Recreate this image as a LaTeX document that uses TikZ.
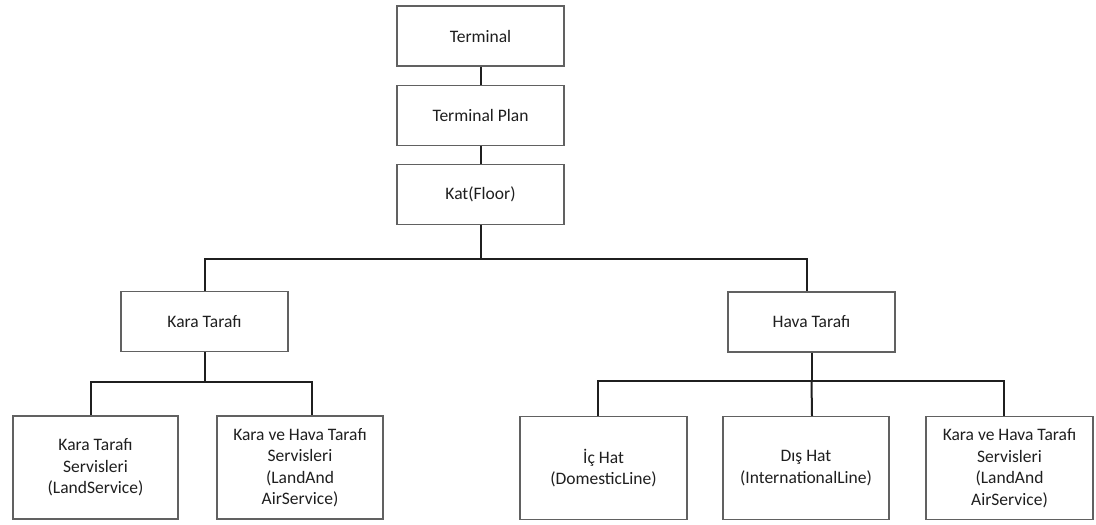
\documentclass[tikz,border=0pt]{standalone}
\usepackage{fontspec}
\setmainfont{Carlito}
\begin{document}
\begin{tikzpicture}[x=1pt,y=-1pt,
  box/.style={draw=black!62, line width=1.2pt, fill=white, rectangle,
    minimum width=167pt, align=center, inner sep=2pt, text=black!88,
    font=\fontsize{17.5}{21.5}\selectfont},
  hbox/.style={box, minimum height=60pt},
  tbox/.style={box, minimum height=103pt},
  link/.style={draw=black!88, line width=2pt}]
\useasboundingbox (0,0) rectangle (1096,525);

% top chain
\node[hbox] (term)  at (480.5,36)    {Terminal};
\node[hbox] (plan)  at (480.5,115.5) {Terminal Plan};
\node[hbox] (floor) at (480.5,194.5) {Kat(Floor)};

% two sides
\node[hbox] (land) at (204.5,321.5) {Kara Tarafı};
\node[hbox] (air)  at (811.5,322)   {Hava Tarafı};

% land side services
\node[tbox, minimum width=165pt] (lserv)  at (95.5,467.5) {Kara Tarafı\\Servisleri\\(LandService)};
\node[tbox, minimum width=166pt] (lboth)  at (300,467.5)  {Kara ve Hava Tarafı\\Servisleri\\(LandAnd\\AirService)};

% air side lines and services
\node[tbox] (dom)   at (603.5,468)  {İç Hat\\(DomesticLine)};
\node[tbox, minimum width=166pt] (intl)  at (806,468) {Dış Hat\\(InternationalLine)};
\node[tbox] (aboth) at (1009.5,468) {Kara ve Hava Tarafı\\Servisleri\\(LandAnd\\AirService)};

% connectors
\draw[link] (term.south) -- (plan.north);
\draw[link] (plan.south) -- (floor.north);
\draw[link] (floor.south) -- ++(0,34) coordinate (fbus);
\draw[link] (fbus) -| (land.north);
\draw[link] (fbus) -| ([xshift=-4.5pt]air.north);

\draw[link] (land.south) -- ++(0,30) coordinate (lbus);
\draw[link] (lbus) -| ([xshift=-4.5pt]lserv.north);
\draw[link] (lbus) -| ([xshift=12pt]lboth.north);

\draw[link] (air.south) -- ++(0,28) coordinate (abus);
\draw[link] (abus) -| ([xshift=-5.5pt]dom.north);
\draw[link] (abus) -- ([xshift=6pt]intl.north);
\draw[link] (abus) -| ([xshift=-5.5pt]aboth.north);
\end{tikzpicture}
\end{document}
